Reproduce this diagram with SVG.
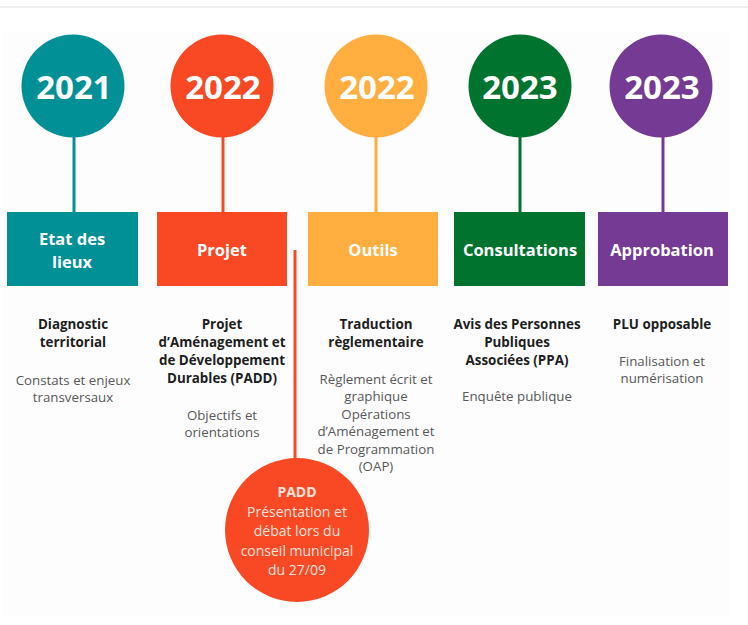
<svg xmlns="http://www.w3.org/2000/svg" width="748" height="625" viewBox="0 0 748 625">
<style>
.yr{font-family:"Open Sans","Noto Sans",sans-serif;font-weight:700;font-size:33px;fill:#fff;text-anchor:middle}
.bx{font-family:"Open Sans","Noto Sans",sans-serif;font-weight:700;font-size:16.5px;fill:#fff;text-anchor:middle}
.h{font-family:"Open Sans","Noto Sans",sans-serif;font-weight:700;font-size:13.4px;fill:#1e1e1e;text-anchor:middle}
.t{font-family:"Open Sans","Noto Sans",sans-serif;font-size:13.3px;fill:#585858;text-anchor:middle}
.p{font-family:"Open Sans","Noto Sans",sans-serif;font-size:14px;fill:#fde3dc;text-anchor:middle}
.pb{font-family:"Open Sans","Noto Sans",sans-serif;font-weight:700;font-size:14px;fill:#fde3dc;text-anchor:middle}
</style>
<rect width="748" height="625" fill="#fff"/>
<line x1="0" y1="7" x2="748" y2="7" stroke="#efefef" stroke-width="2"/>
<rect x="3" y="31" width="727" height="585" fill="#fdfdfd"/>
<g id="connectors">
<line x1="74" y1="130" x2="74" y2="213" stroke="#009096" stroke-width="3"/>
<line x1="223" y1="130" x2="223" y2="213" stroke="#f84824" stroke-width="3"/>
<line x1="376" y1="130" x2="376" y2="213" stroke="#ffae3f" stroke-width="3"/>
<line x1="520" y1="130" x2="520" y2="213" stroke="#00742f" stroke-width="3"/>
<line x1="663" y1="130" x2="663" y2="213" stroke="#753a94" stroke-width="3"/>
<line x1="295" y1="250" x2="295" y2="470" stroke="#f84824" stroke-width="3"/>
</g>
<g id="n2021a">
<circle cx="73" cy="86" r="51.5" fill="#009096"/>
<text class="yr" x="74" y="99">2021</text>
</g>
<g id="n2022a">
<circle cx="222" cy="86" r="51.5" fill="#f84824"/>
<text class="yr" x="223" y="99">2022</text>
</g>
<g id="n2022b">
<circle cx="376" cy="86" r="51.5" fill="#ffae3f"/>
<text class="yr" x="377" y="99">2022</text>
</g>
<g id="n2023a">
<circle cx="520" cy="86" r="51.5" fill="#00742f"/>
<text class="yr" x="520" y="99">2023</text>
</g>
<g id="n2023b">
<circle cx="661" cy="86" r="51.5" fill="#753a94"/>
<text class="yr" x="662" y="99">2023</text>
</g>
<g id="etat">
<rect x="7" y="212" width="131" height="74" fill="#009096"/>
<text class="bx" x="72" y="245">Etat des</text>
<text class="bx" x="72" y="268">lieux</text>
</g>
<g id="projet">
<rect x="157" y="212" width="130" height="74" fill="#f84824"/>
<text class="bx" x="222" y="256">Projet</text>
</g>
<g id="outils">
<rect x="308" y="212" width="130" height="74" fill="#ffae3f"/>
<text class="bx" x="373" y="256">Outils</text>
</g>
<g id="consultations">
<rect x="454" y="212" width="131" height="74" fill="#00742f"/>
<text class="bx" x="520" y="256">Consultations</text>
</g>
<g id="approbation">
<rect x="598" y="212" width="130" height="74" fill="#753a94"/>
<text class="bx" x="662" y="256">Approbation</text>
</g>
<g id="col1">
<text class="h" x="73" y="329">Diagnostic</text>
<text class="h" x="73" y="347">territorial</text>
<text class="t" x="73" y="385">Constats et enjeux</text>
<text class="t" x="73" y="402">transversaux</text>
</g>
<g id="col2">
<text class="h" x="222" y="329">Projet</text>
<text class="h" x="222" y="347">d’Aménagement et</text>
<text class="h" x="222" y="365">de Développement</text>
<text class="h" x="222" y="383">Durables (PADD)</text>
<text class="t" x="222" y="420">Objectifs et</text>
<text class="t" x="222" y="437">orientations</text>
</g>
<g id="col3">
<text class="h" x="376" y="329">Traduction</text>
<text class="h" x="376" y="347">règlementaire</text>
<text class="t" x="376" y="384">Règlement écrit et</text>
<text class="t" x="376" y="401">graphique</text>
<text class="t" x="376" y="419">Opérations</text>
<text class="t" x="376" y="436">d’Aménagement et</text>
<text class="t" x="376" y="454">de Programmation</text>
<text class="t" x="376" y="471">(OAP)</text>
</g>
<g id="col4">
<text class="h" x="517" y="329">Avis des Personnes</text>
<text class="h" x="517" y="347">Publiques</text>
<text class="h" x="517" y="365">Associées (PPA)</text>
<text class="t" x="517" y="401">Enquête publique</text>
</g>
<g id="col5">
<text class="h" x="662" y="329">PLU opposable</text>
<text class="t" x="662" y="366">Finalisation et</text>
<text class="t" x="662" y="383">numérisation</text>
</g>
<g id="padd">
<circle cx="297" cy="530" r="72" fill="#f84824"/>
<text class="pb" x="297" y="497">PADD</text>
<text class="p" x="297" y="517">Présentation et</text>
<text class="p" x="297" y="536">débat lors du</text>
<text class="p" x="297" y="556">conseil municipal</text>
<text class="p" x="297" y="575">du 27/09</text>
</g>
</svg>
